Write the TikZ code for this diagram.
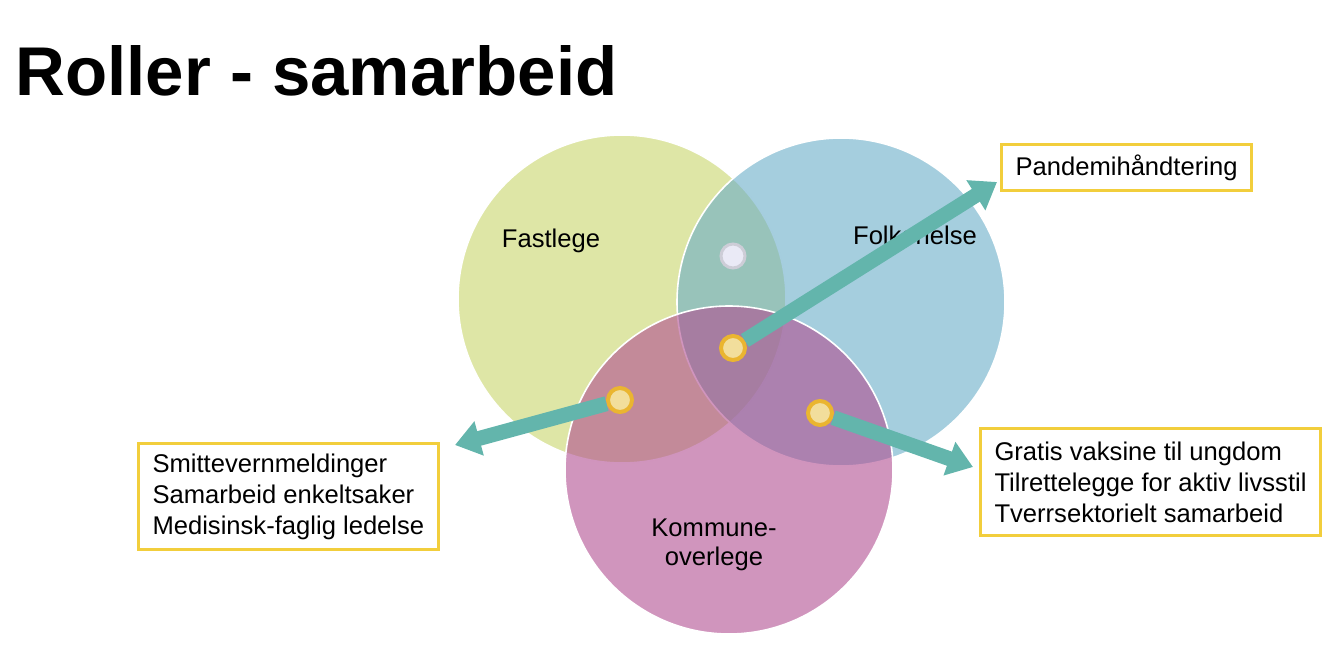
\documentclass[tikz,border=0pt]{standalone}
\usepackage{fontspec}
\setmainfont{Liberation Sans}
\usetikzlibrary{positioning, arrows.meta, calc}

\begin{document}
\begin{tikzpicture}[x=0.5pt, y=-0.5pt]
    \definecolor{setfast}{RGB}{200,213,107}
    \definecolor{setfolk}{RGB}{105,173,200}
    \definecolor{setkomm}{RGB}{177,78,145}
    \definecolor{pointteal}{RGB}{99,181,172}
    \definecolor{boxyellow}{RGB}{242,206,60}
    \definecolor{pinring}{RGB}{234,181,48}
    \definecolor{pinfill}{RGB}{242,222,156}
    \definecolor{pinwhite}{RGB}{234,234,246}
    \definecolor{pinedge}{RGB}{205,205,215}
    \tikzset{
        venn/.style={circle, minimum size=164pt, inner sep=0pt, draw=white, line width=0.8pt, fill opacity=0.6},
        rolelabel/.style={font=\fontsize{12.8}{14.6}\selectfont, align=center},
        notebox/.style={draw=boxyellow, line width=1.5pt, fill=white, align=left,
            font=\fontsize{12.8}{15.5}\selectfont, inner xsep=7pt, inner ysep=5pt},
        pin/.style={circle, minimum size=12pt, inner sep=0pt, draw=pinring, line width=2pt, fill=pinfill},
        pointer/.style={draw=pointteal, line width=7.5pt, -{Triangle[width=17pt, length=12.5pt]}}
    }
    \useasboundingbox (0,0) rectangle (1334,664);
    % title
    \node[anchor=base west, inner sep=0pt, font=\fontsize{34.5}{40}\selectfont\bfseries] (title) at (15,95) {Roller - samarbeid};
    % the three sets
    \node[venn, fill=setfast] (fastlege) at (622,299) {};
    \node[venn, fill=setfolk] (folkehelse) at (841,302) {};
    \node[venn, fill=setkomm] (kommune) at (729,470) {};
    \node[rolelabel] (lblfast) at (551,241) {Fastlege};
    \node[rolelabel] (lblfolk) at (915,235) {Folkehelse};
    \node[rolelabel] (lblkomm) at (714,545) {Kommune-\\overlege};
    % pins in the overlaps
    \node[circle, minimum size=12pt, inner sep=0pt, draw=pinedge, line width=1.5pt, fill=pinwhite] (pintop) at (733,256) {};
    \node[pin] (pinall) at (733,348) {};
    \node[pin] (pinleft) at (620,400) {};
    \node[pin] (pinright) at (820,413) {};
    % notes
    \node[notebox, anchor=north west] (notetop) at (1000,143) {Pandemihåndtering};
    \node[notebox, anchor=north west] (noteleft) at (137,442)
        {Smittevernmeldinger\\Samarbeid enkeltsaker\\Medisinsk-faglig ledelse};
    \node[notebox, anchor=north west, inner ysep=6.5pt] (noteright) at (979,427)
        {Gratis vaksine til ungdom\\Tilrettelegge for aktiv livsstil\\Tverrsektorielt samarbeid};
    % pointers
    \coordinate (tiptop) at (997,182);
    \coordinate (tipleft) at (455,445);
    \coordinate (tipright) at (973,467);
    \draw[pointer] (pinall) -- (tiptop);
    \draw[pointer] (pinleft) -- (tipleft);
    \draw[pointer] (pinright) -- (tipright);
\end{tikzpicture}
\end{document}
